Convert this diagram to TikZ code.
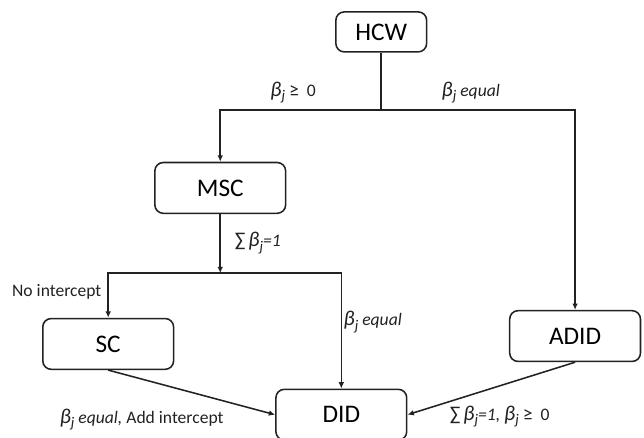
\documentclass[tikz,border=0pt]{standalone}
\usepackage{fontspec}
\setmainfont{Carlito}
\usepackage{tikz}
\usetikzlibrary{arrows.meta}
\definecolor{lineclr}{HTML}{222222}
\newcommand{\bj}{{\fontsize{15}{16}\selectfont\textit{β}}\raisebox{-0.5ex}{\fontsize{10.5}{12}\selectfont\textit{j}}}
\newcommand{\geqz}{\ {\fontsize{14}{16}\selectfont ≥}\ \ 0}
\newcommand{\sumb}{{\fontsize{14}{16}\selectfont ∑}\,}
\tikzset{
  blk/.style={draw=lineclr, rounded corners=6pt, line width=1.1pt, fill=white,
    align=center, minimum width=3.27cm, minimum height=1.27cm, inner sep=2pt,
    font=\fontsize{18}{20}\selectfont},
  arr/.style={-{Latex[length=4.5pt,width=4pt]}, line width=1.1pt, draw=lineclr},
  lnk/.style={line width=1.1pt, draw=lineclr},
  lbl/.style={font=\fontsize{12.5}{14}\selectfont, inner sep=1pt, text=lineclr},
}

\begin{document}
\begin{tikzpicture}[x=16.1cm, y=10.925cm]

\useasboundingbox (0,0) rectangle (1,1);

\node[blk, minimum width=2.27cm, minimum height=1.0cm] (hcw) at (0.592, 0.927) {HCW};
\node[blk] (msc) at (0.342, 0.570) {MSC};
\node[blk] (sc) at (0.168, 0.213) {SC};
\node[blk] (adid) at (0.893, 0.231) {ADID};
\node[blk] (did) at (0.530, 0.051) {DID};

\coordinate (s1) at (0.592, 0.748);
\coordinate (s2) at (0.342, 0.375);

\draw[lnk] (hcw.south) -- (s1);
\draw[arr] (s1) -| (msc.north);
\draw[arr] (s1) -| (adid.north);
\draw[arr] (msc.south) -- (s2);
\draw[arr] (s2) -| (sc.north);
\draw[arr] (s2) -| (did.north);
\draw[arr] (sc.south) -- (did.west);
\draw[arr] (adid.south) -- (did.east);

\node[lbl] (l_pos) at (0.455, 0.789) {\bj\geqz};
\node[lbl] (l_eq1) at (0.731, 0.789) {\bj{} \textit{equal}};
\node[lbl, anchor=west] (l_sum) at (0.362, 0.444) {\sumb\bj\textit{=1}};
\node[lbl, anchor=east] (l_noint) at (0.160, 0.332) {No intercept};
\node[lbl, anchor=west] (l_eq2) at (0.531, 0.263) {\bj{} \textit{equal}};
\node[lbl] (l_add) at (0.220, 0.039) {\bj{} \textit{equal,} Add intercept};
\node[lbl, anchor=west] (l_both) at (0.696, 0.046) {\sumb\bj\textit{=1,} \bj\geqz};

\end{tikzpicture}
\end{document}
